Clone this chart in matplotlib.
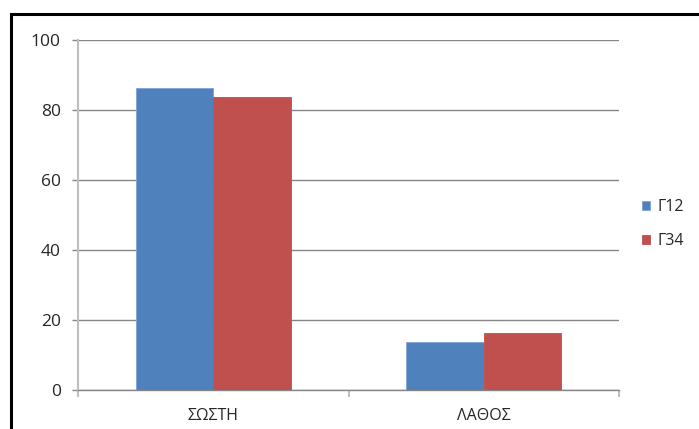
import matplotlib
matplotlib.use("Agg")
import matplotlib.pyplot as plt
from matplotlib.patches import Rectangle
import numpy as np

plt.rcParams['font.family'] = ['Open Sans', 'DejaVu Sans']

categories = ["ΣΩΣΤΗ", "ΛΑΘΟΣ"]
series_names = ["Γ12", "Γ34"]
g12_values = [86.3, 13.7]
g34_values = [83.9, 16.1]
y_ticks = [0, 20, 40, 60, 80, 100]

blue = "#4F81BD"
red = "#C0504D"
grid_gray = "#868686"
axis_gray = "#BFBFBF"
text_col = "#262626"

fig = plt.figure(figsize=(6.99, 4.29), dpi=100)
ax = fig.add_axes([78 / 699, 1 - 389.7 / 429, (619 - 78) / 699, (389.7 - 40.3) / 429])

x = np.arange(len(categories))
w = 0.2857
ax.bar(x - w, g12_values, width=w, align='edge', color=blue, edgecolor="#7FA3D3",
       linewidth=0.6, label=series_names[0], zorder=3)
ax.bar(x, g34_values, width=w, align='edge', color=red, edgecolor="#C0504D",
       linewidth=0.6, label=series_names[1], zorder=3)

ax.set_xlim(-0.5, len(categories) - 0.5)
ax.set_ylim(0, 100)
ax.set_yticks(y_ticks)
ax.set_yticklabels([str(v) for v in y_ticks])
ax.yaxis.grid(True, color=grid_gray, linewidth=1.0, zorder=0)
ax.tick_params(axis='y', length=4.3, width=1.0, color=grid_gray, pad=8, labelsize=12.5,
               labelcolor=text_col)

ax.set_xticks(x)
ax.set_xticklabels(categories)
ax.set_xticks(np.arange(-0.5, len(categories)), minor=True)
ax.tick_params(axis='x', which='major', length=0, pad=13, labelsize=11.5, labelcolor=text_col)
ax.tick_params(axis='x', which='minor', length=5, width=1.5, color=axis_gray)

for s in ['top', 'right']:
    ax.spines[s].set_visible(False)
ax.spines['left'].set_color(axis_gray)
ax.spines['left'].set_linewidth(1.5)
ax.spines['bottom'].set_color(grid_gray)
ax.spines['bottom'].set_linewidth(1.0)
ax.set_axisbelow(True)

fig.legend(loc='center left', bbox_to_anchor=(642 / 699, 1 - 224 / 429), frameon=False,
           fontsize=11.5, handlelength=0.5, handleheight=0.5, handletextpad=0.45,
           labelspacing=1.15, labelcolor=text_col, borderpad=0, borderaxespad=0)

# outer chart frame
fig.patches.append(Rectangle((11 / 699, -0.1), 1.2, 1.1 - 14 / 429,
                             transform=fig.transFigure, fill=False,
                             edgecolor='black', linewidth=2.2))

fig.savefig("out.png", dpi=100)
